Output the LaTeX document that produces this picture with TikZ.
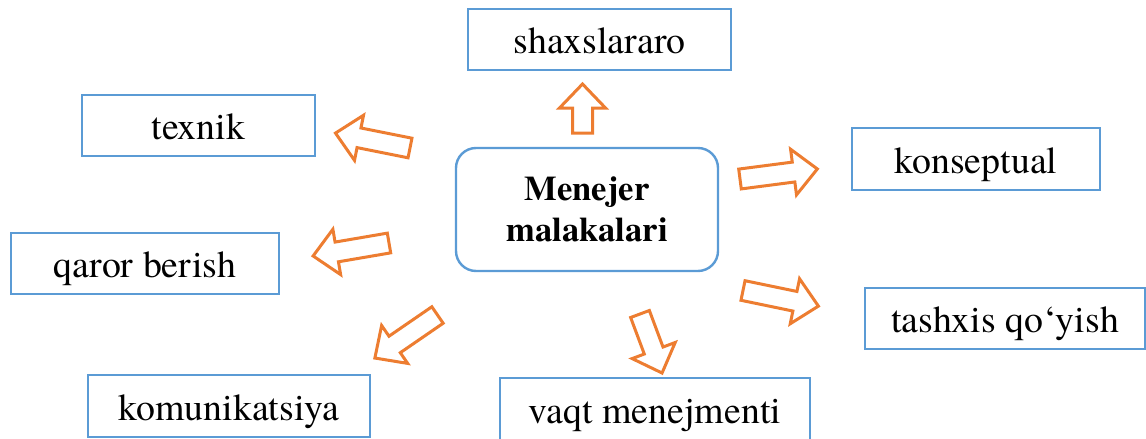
\documentclass[tikz,border=0pt]{standalone}
\usepackage{fontspec}
\setmainfont{TeX Gyre Termes}
\usepackage{xcolor}
\definecolor{boxBlue}{RGB}{91,155,213}
\definecolor{arrowOrange}{RGB}{237,125,49}
\usepackage{tikz}
\usetikzlibrary{positioning}
\tikzset{
  skill/.style={draw=boxBlue, line width=1.2pt, fill=white, inner sep=0pt, text height=18pt, text depth=4pt, font=\fontsize{18.9}{22}\selectfont},
  center/.style={draw=boxBlue, line width=1.2pt, rounded corners=10pt, inner sep=0pt, align=center, font=\fontsize{17.3}{20.5}\selectfont\bfseries},
  arrowline/.style={draw=arrowOrange, line width=1.5pt, line join=miter, fill=white},
  pics/blockarrow/.style={code={
    \draw[arrowline] (0,-10) -- ({#1-24},-10) -- ({#1-24},-23) -- (#1,0) -- ({#1-24},23) -- ({#1-24},10) -- (0,10) -- cycle;
  }}
}

\begin{document}
\begin{tikzpicture}[x=0.5pt, y=-0.5pt]
\useasboundingbox (0,0) rectangle (1146,439);
% centre
\node[center, minimum width=131pt, minimum height=61.5pt] (malaka) at (587,209.5) {Menejer\\malakalari};
% skills
\node[skill, minimum width=131.5pt, minimum height=30.5pt] (shaxs) at (599.5,39.5) {shaxslararo};
\node[skill, minimum width=116.5pt, minimum height=30.5pt] (texnik) at (198.5,125.5) {texnik};
\node[skill, minimum width=124pt, minimum height=31pt] (konsep) at (976,159) {konseptual};
\node[skill, minimum width=134pt, minimum height=30.5pt] (qaror) at (145,263.5) {qaror berish};
\node[skill, minimum width=140pt, minimum height=30.5pt] (tashxis) at (1005,318.5) {tashxis qo‘yish};
\node[skill, minimum width=141pt, minimum height=31pt] (komun) at (229,406) {komunikatsiya};
\node[skill, minimum width=155pt, minimum height=31pt] (vaqt) at (655,409) {vaqt menejmenti};
% block arrows
\pic[rotate=168.7] (toTexnik) at (410,148) {blockarrow=76};
\pic[rotate=90] (toShaxs) at (582.5,133) {blockarrow=49};
\pic[rotate=7.4] (toKonsep) at (740,179) {blockarrow=78};
\pic[rotate=-11.7] (toTashxis) at (743,290.5) {blockarrow=77};
\pic[rotate=-69.5] (toVaqt) at (640,314) {blockarrow=63};
\pic[rotate=214.5] (toKomun) at (437.5,315) {blockarrow=76};
\pic[rotate=189.7] (toQaror) at (389,243) {blockarrow=77};
\end{tikzpicture}
\end{document}
